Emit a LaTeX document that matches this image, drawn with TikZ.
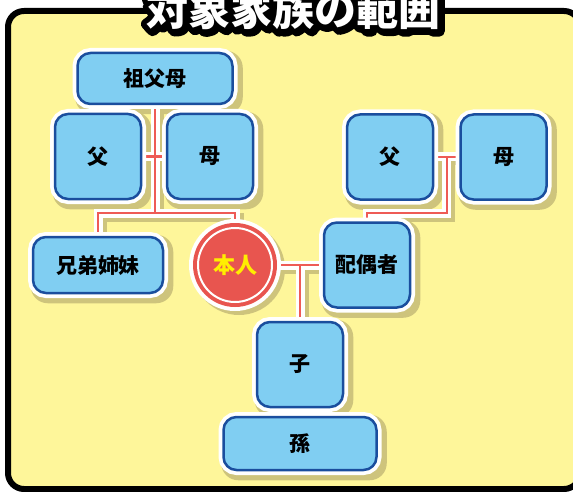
\documentclass[tikz,border=0pt]{standalone}
\usepackage{fontspec}
\newfontfamily\cjk{Noto Sans CJK JP}
\usetikzlibrary{calc}
\definecolor{bgy}{HTML}{FEF69A}
\definecolor{boxfill}{HTML}{80CEF2}
\definecolor{boxblue}{HTML}{1A4E9E}
\definecolor{shadowc}{HTML}{CEC47C}
\definecolor{linered}{HTML}{EE5B56}
\definecolor{mered}{HTML}{E8554F}
\definecolor{meyellow}{HTML}{FFEE00}
\pgfdeclarelayer{bg}
\pgfdeclarelayer{shadow}
\pgfdeclarelayer{lines}
\pgfsetlayers{bg,shadow,lines,main}
\newcommand\famlines[1]{%
  \path[#1] (gp.south) -- (gp.south |- jL)
    (f1.east) -- (m1.west)
    (sib.north) -- (sib.north |- jL) -- (me.north |- jL) -- (me.north)
    (me.east) -- (sp.west)
    (ch.north) -- (ch.north |- me.east)
    (ch.south) -- (gc.north)
    (f2.east) -- (m2.west)
    (jR) -- (jR |- jL) -- (sp.north |- jL) -- (sp.north);%
}
\newcommand\outlined[2]{\special{pdf:literal direct 2 Tr #1 w 1 j 1 J}#2\special{pdf:literal direct 0 Tr 1 w}}
\begin{document}
\begin{tikzpicture}[x=1pt,y=-1pt,
  fam/.style={draw=boxblue, line width=2.5pt, fill=boxfill, rounded corners=13pt,
    inner sep=0pt, preaction={draw=white, line width=10pt},
    font=\cjk\bfseries\fontsize{21}{21}\selectfont, text=black},
  sq/.style={fam, minimum width=86pt, minimum height=85pt},
  conn/.style={draw=linered, line width=2.5pt},
  connw/.style={draw=white, line width=9pt},
  conns/.style={draw=shadowc, line width=9pt},
  titlefont/.style={font=\cjk\bfseries\fontsize{42}{42}\selectfont, inner sep=0pt}
]
\useasboundingbox (0,0) rectangle (573,492);
\begin{pgfonlayer}{bg}
\fill[white] (0,0) rectangle (573,492);
\draw[black, line width=6pt, fill=bgy, rounded corners=16pt] (8,11) rectangle (580,489);
\end{pgfonlayer}

% nodes
\node[fam, minimum width=155pt, minimum height=51pt] (gp) at (155,78.5) {祖父母};
\node[sq] (f1) at (98,156.5) {父};
\node[sq] (m1) at (210,156.5) {母};
\node[fam, minimum width=130pt, minimum height=56pt] (sib) at (98,265) {兄弟姉妹};
\node[circle, minimum size=84pt, inner sep=0pt, fill=mered,
      preaction={draw=white, line width=8pt}, text=meyellow,
      font=\cjk\bfseries\fontsize{22}{22}\selectfont] (me) at (235,265) {本人};
\draw[white, line width=2pt] (me.center) circle (37);
\node[sq] (sp) at (367,265) {配偶者};
\node[sq] (f2) at (390,157) {父};
\node[sq] (m2) at (503.5,157) {母};
\node[sq] (ch) at (300,364.5) {子};
\node[fam, minimum width=153pt, minimum height=53pt] (gc) at (300,443.5) {孫};

\coordinate (jL) at (155,213);
\coordinate (jR) at ($(f2.east)!0.5!(m2.west)$);

\begin{pgfonlayer}{lines}
  \famlines{connw}
  \famlines{conn}
\end{pgfonlayer}

\begin{pgfonlayer}{shadow}
  \begin{scope}[transform canvas={shift={(4pt,-4pt)}}]
    \famlines{conns}
    \foreach \n in {gp,f1,m1,sib,sp,f2,m2,ch,gc} {
      \fill[shadowc, rounded corners=17pt] ($(\n.north west)+(-5,-5)$) rectangle ($(\n.south east)+(5,5)$);
    }
    \fill[shadowc] (me.center) circle (46);
  \end{scope}
\end{pgfonlayer}

% title
\node[titlefont, text=black] (titleshadow) at (295,11) {\outlined{11}{対象家族の範囲}};
\node[titlefont, text=black] (titleline) at (293,9) {\outlined{11}{対象家族の範囲}};
\node[titlefont, text=white] (title) at (293,9) {対象家族の範囲};
\end{tikzpicture}
\end{document}
